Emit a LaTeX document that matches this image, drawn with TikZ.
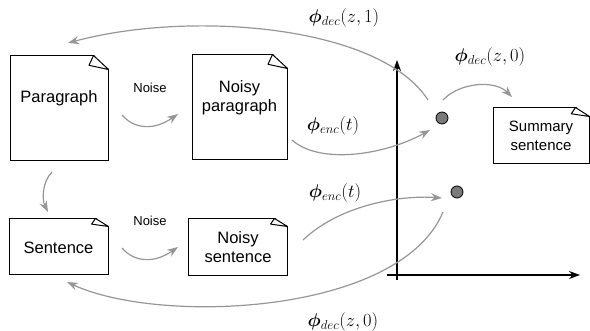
\documentclass[tikz,border=0pt]{standalone}
\usepackage{fix-cm}
\usepackage{amsmath}
\usepackage{bm}
\usepackage[no-math]{fontspec}
\setmainfont{Liberation Sans}
\usepackage{tikz}
\usetikzlibrary{calc, positioning}
\usetikzlibrary{arrows.meta}
\definecolor{arrowgray}{RGB}{150,150,150}
\definecolor{dotgray}{RGB}{122,122,122}
% dog-ear on the top right corner of a document node
\newcommand{\docfold}[3]{%
  \fill[white] ($(#1.north east)+(-#2,-1)$) -- ($(#1.north east)+(1,-1)$) -- ($(#1.north east)+(1,#3)$) -- cycle;
  \draw[line width=1pt, fill=white, line join=round] ($(#1.north east)+(-#2,0)$) -- ($(#1.north east)+(-1.3*#2,0.7*#3)$) -- ($(#1.north east)+(0,#3)$) -- cycle;}

\begin{document}
\begin{tikzpicture}[x=1pt, y=-1pt,
    doc/.style={draw, line width=1pt, inner sep=0pt},
    lbl/.style={font=\fontsize{16.5}{19}\selectfont, align=center, inner sep=0pt},
    noise/.style={font=\fontsize{13}{15}\selectfont, inner sep=0pt},
    phi/.style={font=\fontsize{18.5}{22}\selectfont, inner sep=0pt},
    garrow/.style={draw=arrowgray, line width=1.2pt, -{Stealth[length=11pt,width=8pt]}},
    axis/.style={draw, line width=1.2pt, -{Stealth[length=11pt,width=8pt]}},
    latent/.style={circle, draw, fill=dotgray, line width=0.8pt, minimum size=12pt, inner sep=0pt}]

	\useasboundingbox (0,0) rectangle (590,331);

	% documents
	\node[doc, minimum width=98, minimum height=105] (para) at (59,108.5) {};
	\node[doc, minimum width=95, minimum height=105] (npara) at (239.5,107.5) {};
	\node[doc, minimum width=99, minimum height=56] (sent) at (58.5,247) {};
	\node[doc, minimum width=99, minimum height=57] (nsent) at (237.5,247.5) {};
	\node[doc, minimum width=96, minimum height=56] (summ) at (541,136) {};
	\docfold{para}{15}{14}
	\docfold{npara}{15}{14}
	\docfold{sent}{13}{8}
	\docfold{nsent}{13}{8}
	\docfold{summ}{14}{9}

	\node[lbl] (paratext) at (59,98) {Paragraph};
	\node[lbl] (nparatext) at (239.5,98) {Noisy\\paragraph};
	\node[lbl] (senttext) at (58.5,247.5) {Sentence};
	\node[lbl] (nsenttext) at (238,247.5) {Noisy\\sentence};
	\node[lbl, font=\fontsize{15}{18.5}\selectfont] (summtext) at (541,136) {Summary\\sentence};

	% latent space
	\coordinate (ytop) at (397,60);
	\coordinate (ybot) at (397,280);
	\coordinate (xleft) at (387,275);
	\coordinate (xright) at (580,275);
	\draw[axis] (ybot) -- (ytop);
	\draw[axis] (xleft) -- (xright);
	\node[latent] (zpara) at (442,118) {};
	\node[latent] (zsent) at (457,192) {};

	% noise
	\node[noise] (noise1) at (150,88) {Noise};
	\node[noise] (noise2) at (150,221) {Noise};
	\coordinate (n1a) at (122,115);
	\coordinate (n1b) at (178,114);
	\coordinate (n2a) at (122,248);
	\coordinate (n2b) at (178,247);
	\draw[garrow] (n1a) .. controls (135,130) and (155,130) .. (n1b);
	\draw[garrow] (n2a) .. controls (135,263) and (155,263) .. (n2b);

	% paragraph to sentence
	\coordinate (ps1) at (52,172);
	\coordinate (ps2) at (48,212);
	\draw[garrow] (ps1) .. controls (42,182) and (42,200) .. (ps2);

	% encoders
	\coordinate (e1a) at (292,140);
	\coordinate (e1b) at (430,130);
	\coordinate (e2a) at (303,240);
	\coordinate (e2b) at (442,198);
	\draw[garrow] (e1a) .. controls (320,165) and (385,155) .. (e1b);
	\draw[garrow] (e2a) .. controls (340,205) and (400,195) .. (e2b);
	\node[phi] (enc1) at (333,126) {$\bm{\phi}_{enc}(t)$};
	\node[phi] (enc2) at (335,193) {$\bm{\phi}_{enc}(t)$};

	% decoders
	\coordinate (d1a) at (428,100);
	\coordinate (d1b) at (68,43);
	\coordinate (d2a) at (443,100);
	\coordinate (d2b) at (512,97);
	\coordinate (d3a) at (443,212);
	\coordinate (d3b) at (67,282);
	\draw[garrow] (d1a) .. controls (380,25) and (190,10) .. (d1b);
	\draw[garrow] (d2a) .. controls (460,82) and (495,80) .. (d2b);
	\draw[garrow] (d3a) .. controls (400,315) and (160,325) .. (d3b);
	\node[phi] (dec1) at (344,18) {$\bm{\phi}_{dec}(z,1)$};
	\node[phi] (dec2) at (490,57) {$\bm{\phi}_{dec}(z,0)$};
	\node[phi] (dec3) at (343,322) {$\bm{\phi}_{dec}(z,0)$};
\end{tikzpicture}
\end{document}
